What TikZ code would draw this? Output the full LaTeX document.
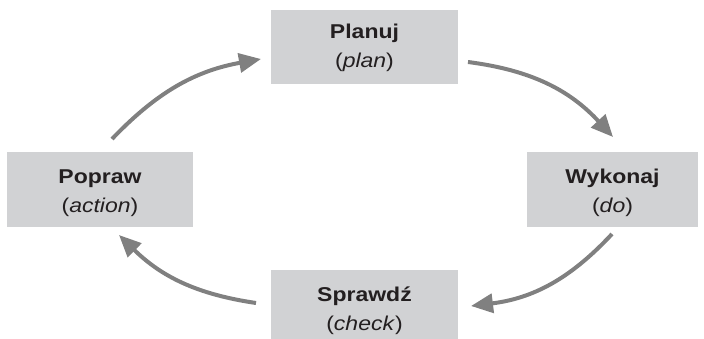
\documentclass[tikz,border=0pt]{standalone}
\usepackage{fontspec}
\setmainfont[FakeStretch=1.15]{Liberation Sans}
\usetikzlibrary{arrows.meta}
\definecolor{boxgray}{HTML}{D1D2D4}
\definecolor{arrgray}{HTML}{808080}
\definecolor{txt}{HTML}{231F20}
\begin{document}
\begin{tikzpicture}[x=1pt,y=-1pt,
  stage/.style={fill=boxgray,draw=none,inner sep=0pt},
  cyc/.style={draw=arrgray,line width=4pt,-{Triangle[length=22pt,width=19pt]}},
  lbl/.style={text=txt,align=center,font=\fontsize{20}{29}\selectfont}]
\useasboundingbox (0,0) rectangle (704,339);
\begin{scope}
\clip (0,0) rectangle (704,339);
\node[stage,minimum width=187pt,minimum height=74pt] (plan) at (364.5,47) {};
\node[stage,minimum width=171pt,minimum height=75pt] (do) at (612.5,189.5) {};
\node[stage,minimum width=187pt,minimum height=75pt] (check) at (364.5,307.5) {};
\node[stage,minimum width=186pt,minimum height=75pt] (act) at (100,189.5) {};
\end{scope}
\node[lbl] (planT) at (364.5,48) {\textbf{Planuj}\\(\textit{plan})};
\node[lbl] (doT) at (612.5,193) {\textbf{Wykonaj}\\(\textit{do})};
\node[lbl] (checkT) at (364.5,310.5) {\textbf{Sprawdź}\\(\textit{check})};
\node[lbl] (actT) at (100,193) {\textbf{Popraw}\\(\textit{action})};
\coordinate (a1s) at (468,62);
\coordinate (a1e) at (613,137);
\coordinate (a2s) at (612,234);
\coordinate (a2e) at (471,306);
\coordinate (a3s) at (256,303);
\coordinate (a3e) at (119,235);
\coordinate (a4s) at (112,139);
\coordinate (a4e) at (261,59);
\draw[cyc] (a1s) to[bend left=20] (a1e);
\draw[cyc] (a2s) to[bend left=20] (a2e);
\draw[cyc] (a3s) to[bend left=18] (a3e);
\draw[cyc] (a4s) to[bend left=18] (a4e);
\end{tikzpicture}
\end{document}
